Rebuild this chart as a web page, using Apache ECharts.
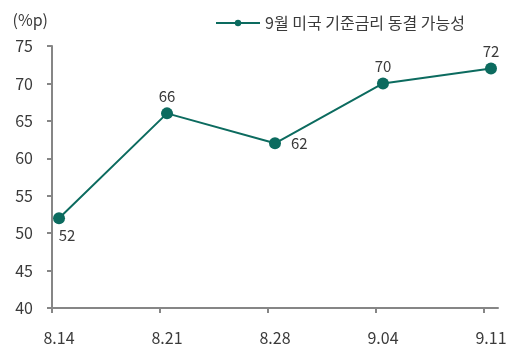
<!DOCTYPE html>
<html>
<head>
<meta charset="utf-8">
<script src="https://cdn.jsdelivr.net/npm/echarts@6/dist/echarts.min.js"></script>
<style>
  html, body { margin: 0; padding: 0; background: #fff; }
  #chart { width: 521px; height: 354px; }
</style>
</head>
<body>
<div id="chart"></div>
<script>
// 데이터
const categories = ['8.14', '8.21', '8.28', '9.04', '9.11'];
const values = [52, 66, 62, 70, 72];
const labelPositions = ['bottom', 'top', 'right', 'top', 'top'];
const seriesName = '9월 미국 기준금리 동결 가능성';

const FONT = '"Noto Sans CJK KR", "Noto Sans", sans-serif';
const TEXT_COLOR = '#3a3a3a';
const LINE_COLOR = '#0c6b5f';
const AXIS_COLOR = '#868686';
const POINT_OFFSET = 0.065; // 점/라벨이 눈금보다 살짝 오른쪽

const chart = echarts.init(document.getElementById('chart'));

const tickPos = categories.map((_, i) => i);
const labelPos = categories.map((_, i) => i + POINT_OFFSET);

const data = values.map((v, i) => ({
    value: [i + POINT_OFFSET, v],
    label: { position: labelPositions[i], distance: labelPositions[i] === 'right' ? 10 : 4,
             offset: i === 0 ? [8, 0] : [0, 0] }
}));

const option = {
    animation: false,
    grid: { left: 52, right: 23, top: 46, bottom: 46, containLabel: false },
    legend: {
        data: [seriesName],
        left: 210,
        top: 10,
        itemWidth: 44,
        itemHeight: 8,
        itemGap: 6,
        textStyle: { fontFamily: FONT, fontSize: 16, color: TEXT_COLOR }
    },
    xAxis: {
        type: 'value',
        min: 0,
        max: 4.13,
        interval: 1,
        splitLine: { show: false },
        axisLine: { show: true, lineStyle: { color: AXIS_COLOR, width: 2 } },
        axisTick: { show: true, length: 5, lineStyle: { color: AXIS_COLOR, width: 2 },
                    customValues: tickPos },
        axisLabel: {
            customValues: labelPos,
            formatter: (v) => categories[Math.round(v)] || '',
            margin: 22,
            fontFamily: FONT, fontSize: 16, color: TEXT_COLOR
        }
    },
    yAxis: {
        type: 'value',
        min: 40,
        max: 75,
        interval: 5,
        name: '(%p)',
        nameLocation: 'end',
        nameGap: 18,
        nameTextStyle: { fontFamily: FONT, fontSize: 16, color: TEXT_COLOR, align: 'right', padding: [0, 4, 0, 0] },
        splitLine: { show: false },
        axisLine: { show: true, lineStyle: { color: AXIS_COLOR, width: 2 } },
        axisTick: { show: true, length: 5, lineStyle: { color: AXIS_COLOR, width: 2 } },
        axisLabel: { margin: 19, fontFamily: FONT, fontSize: 16, color: TEXT_COLOR }
    },
    series: [{
        name: seriesName,
        type: 'line',
        data: data,
        symbol: 'circle',
        symbolSize: 12,
        itemStyle: { color: LINE_COLOR },
        lineStyle: { color: LINE_COLOR, width: 2 },
        label: {
            show: true,
            formatter: (p) => p.value[1],
            fontFamily: FONT, fontSize: 15, color: TEXT_COLOR
        }
    }]
};
chart.setOption(option);
</script>
</body>
</html>
